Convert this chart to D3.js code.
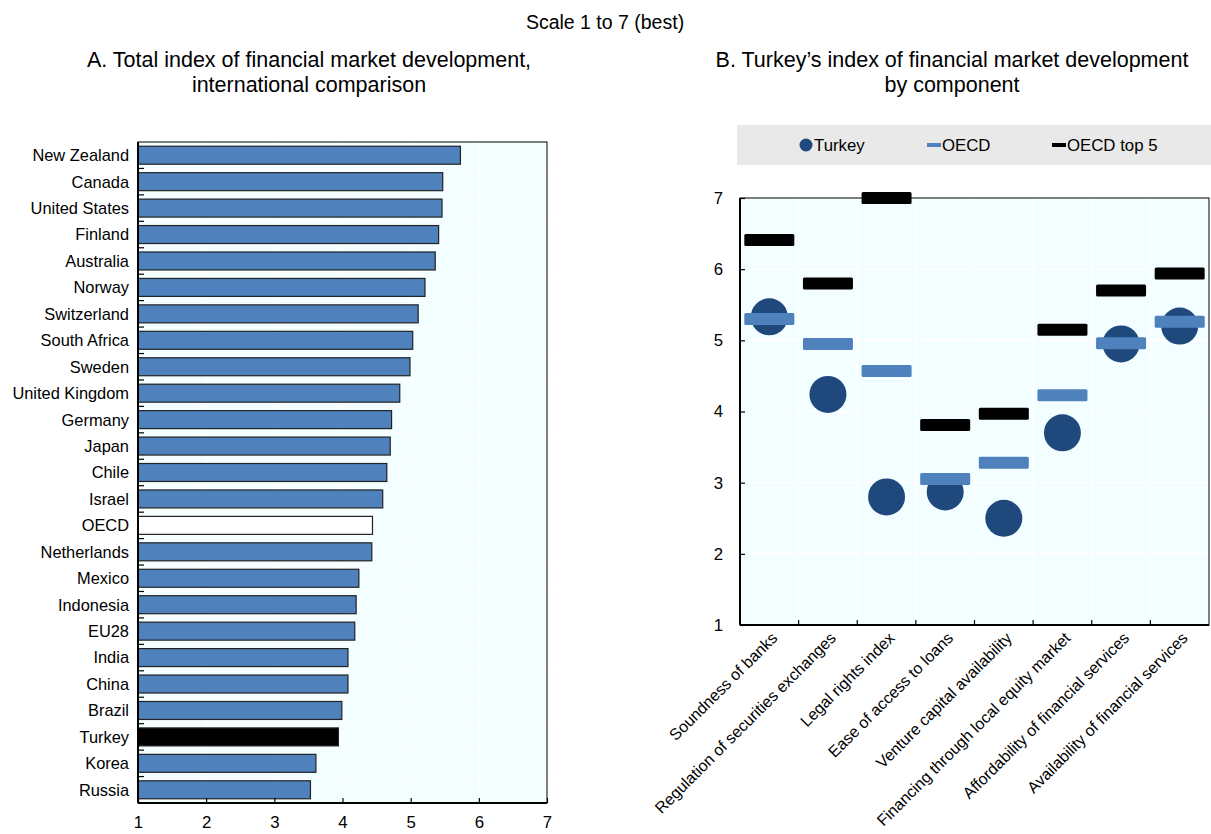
<!DOCTYPE html>
<html>
<head>
<meta charset="utf-8">
<script src="https://cdn.jsdelivr.net/npm/d3@7"></script>
<style>
  body { margin: 0; background: #fff; }
  svg { font-family: "Liberation Sans", Arial, sans-serif; }
</style>
</head>
<body>
<svg id="chart" width="1211" height="834"></svg>
<script>
// Panel A data
var countries = ["New Zealand", "Canada", "United States", "Finland", "Australia", "Norway",
  "Switzerland", "South Africa", "Sweden", "United Kingdom", "Germany", "Japan", "Chile",
  "Israel", "OECD", "Netherlands", "Mexico", "Indonesia", "EU28", "India", "China", "Brazil",
  "Turkey", "Korea", "Russia"];
var totalIndex = [5.73, 5.47, 5.46, 5.41, 5.36, 5.21, 5.11, 5.03, 4.99, 4.84, 4.72, 4.70, 4.65,
  4.59, 4.44, 4.43, 4.24, 4.20, 4.18, 4.08, 4.08, 3.99, 3.94, 3.61, 3.53];

// Panel B data
var components = ["Soundness of banks", "Regulation of securities exchanges", "Legal rights index",
  "Ease of access to loans", "Venture capital availability", "Financing through local equity market",
  "Affordability of financial services", "Availability of financial services"];
var turkeyVals = [5.33, 4.24, 2.80, 2.87, 2.50, 3.70, 4.95, 5.20];
var oecdVals = [5.30, 4.95, 4.57, 3.05, 3.28, 4.23, 4.96, 5.26];
var top5Vals = [6.41, 5.80, 7.00, 3.81, 3.97, 5.15, 5.70, 5.94];
var scaleTicks = [1, 2, 3, 4, 5, 6, 7];

// labels in the original use a narrow face; use it if the machine has one
var ctx = document.createElement("canvas").getContext("2d");
function textW(f) { ctx.font = f; return ctx.measureText("New Zealand 1234").width; }
var hasNarrow = textW("20px 'Liberation Sans Narrow', monospace") != textW("20px monospace");
var labFont = hasNarrow ? "'Liberation Sans Narrow', 'Liberation Sans', Arial, sans-serif" : "'Liberation Sans', Arial, sans-serif";
var k = hasNarrow ? 1 : 0.84; // shrink if we fall back to the wide face
function fs(px) { return (px * k).toFixed(1) + "px"; }

var svg = d3.select("#chart");
var plotBg = "#f2feff";
var barBlue = "#4f81bd";
var darkBlue = "#1f497d";

// main title
svg.append("text").attr("x", 605).attr("y", 29).attr("text-anchor", "middle")
  .style("font-size", "19.5px").text("Scale 1 to 7 (best)");

// ---------- Panel A ----------
var ax0 = 138, ax1 = 547, ay0 = 142, ay1 = 803;
svg.append("text").attr("x", 309).attr("y", 67).attr("text-anchor", "middle")
  .style("font-size", "21.5px").text("A. Total index of financial market development,");
svg.append("text").attr("x", 309).attr("y", 92).attr("text-anchor", "middle")
  .style("font-size", "21.5px").text("international comparison");

var xA = d3.scaleLinear().domain([1, 7]).range([ax0, ax1]);
var yA = d3.scaleBand().domain(countries).range([ay0, ay1]).paddingInner(0.32).paddingOuter(0.16);

var gA = svg.append("g");
gA.append("rect").attr("x", ax0).attr("y", ay0).attr("width", ax1 - ax0).attr("height", ay1 - ay0)
  .attr("fill", plotBg);

// gridlines
gA.selectAll(".vgrid").data(scaleTicks.slice(1, -1)).enter().append("line")
  .attr("x1", function(d) { return xA(d); }).attr("x2", function(d) { return xA(d); })
  .attr("y1", ay0).attr("y2", ay1).attr("stroke", "#fff").attr("stroke-width", 1.5);
var stepA = yA.step();
gA.selectAll(".hgrid").data(d3.range(1, countries.length)).enter().append("line")
  .attr("x1", ax0).attr("x2", ax1)
  .attr("y1", function(i) { return ay0 + i * stepA; }).attr("y2", function(i) { return ay0 + i * stepA; })
  .attr("stroke", "#fff").attr("stroke-width", 1);

// bars
gA.selectAll(".bar").data(countries).enter().append("rect")
  .attr("x", xA(1))
  .attr("y", function(d) { return yA(d); })
  .attr("width", function(d, i) { return xA(totalIndex[i]) - xA(1); })
  .attr("height", yA.bandwidth())
  .attr("fill", function(d) { return d == "Turkey" ? "#000" : (d == "OECD" ? "#fff" : barBlue); })
  .attr("stroke", "#222").attr("stroke-width", 1.2);

// frame
gA.append("rect").attr("x", ax0).attr("y", ay0).attr("width", ax1 - ax0).attr("height", ay1 - ay0)
  .attr("fill", "none").attr("stroke", "#000").attr("stroke-width", 1);
gA.append("line").attr("x1", ax0).attr("x2", ax0).attr("y1", ay0).attr("y2", ay1)
  .attr("stroke", "#000").attr("stroke-width", 2);
gA.append("line").attr("x1", ax0).attr("x2", ax1).attr("y1", ay1).attr("y2", ay1)
  .attr("stroke", "#000").attr("stroke-width", 2);

// band ticks on the left axis
gA.selectAll(".ytick").data(d3.range(1, countries.length)).enter().append("line")
  .attr("x1", ax0).attr("x2", ax0 + 6)
  .attr("y1", function(i) { return ay0 + i * stepA; }).attr("y2", function(i) { return ay0 + i * stepA; })
  .attr("stroke", "#000").attr("stroke-width", 1.2);

// country labels
gA.selectAll(".ylab").data(countries).enter().append("text")
  .attr("x", ax0 - 9)
  .attr("y", function(d) { return yA(d) + yA.bandwidth() / 2; })
  .attr("dy", "0.36em").attr("text-anchor", "end")
  .style("font-family", labFont).style("font-size", fs(19.5)).text(function(d) { return d; });

// x axis
var axisA = gA.append("g").attr("transform", "translate(0," + ay1 + ")")
  .call(d3.axisBottom(xA).tickValues(scaleTicks).tickSize(-5).tickPadding(14).tickFormat(d3.format("d")));
axisA.select(".domain").remove();
axisA.selectAll("line").attr("stroke-width", 1.2);
axisA.selectAll("text").attr("y", 25).attr("dy", 0)
  .style("font-size", fs(20)).style("font-family", labFont);

// ---------- Panel B ----------
var bx0 = 740, bx1 = 1209, by0 = 198, by1 = 625;
svg.append("text").attr("x", 952).attr("y", 67).attr("text-anchor", "middle")
  .style("font-size", "21.5px").text("B. Turkey\u2019s index of financial market development");
svg.append("text").attr("x", 952).attr("y", 92).attr("text-anchor", "middle")
  .style("font-size", "21.5px").text("by component");

// legend
var leg = svg.append("g").style("font-family", labFont).style("font-size", fs(20));
leg.append("rect").attr("x", 737).attr("y", 125).attr("width", 474).attr("height", 40).attr("fill", "#e9e9e9");
leg.append("circle").attr("cx", 806).attr("cy", 145).attr("r", 6.5).attr("fill", darkBlue);
leg.append("text").attr("x", 814).attr("y", 145).attr("dy", "0.36em").text("Turkey");
leg.append("rect").attr("x", 927).attr("y", 143).attr("width", 14).attr("height", 4).attr("fill", barBlue);
leg.append("text").attr("x", 942).attr("y", 145).attr("dy", "0.36em").text("OECD");
leg.append("rect").attr("x", 1052).attr("y", 143).attr("width", 14).attr("height", 4).attr("fill", "#000");
leg.append("text").attr("x", 1067).attr("y", 145).attr("dy", "0.36em").text("OECD top 5");

var xB = d3.scaleBand().domain(components).range([bx0, bx1]);
var yB = d3.scaleLinear().domain([1, 7]).range([by1, by0]);

var gB = svg.append("g");
gB.append("rect").attr("x", bx0).attr("y", by0).attr("width", bx1 - bx0).attr("height", by1 - by0)
  .attr("fill", plotBg);
gB.selectAll(".hgrid").data(scaleTicks.slice(1, -1)).enter().append("line")
  .attr("x1", bx0).attr("x2", bx1)
  .attr("y1", function(d) { return yB(d); }).attr("y2", function(d) { return yB(d); })
  .attr("stroke", "#fff").attr("stroke-width", 1.5);
gB.selectAll(".vgrid").data(components.slice(1)).enter().append("line")
  .attr("x1", function(d) { return xB(d); }).attr("x2", function(d) { return xB(d); })
  .attr("y1", by0).attr("y2", by1).attr("stroke", "#fff").attr("stroke-width", 1.5);

// frame
gB.append("rect").attr("x", bx0).attr("y", by0).attr("width", bx1 - bx0).attr("height", by1 - by0)
  .attr("fill", "none").attr("stroke", "#000").attr("stroke-width", 1);
gB.append("line").attr("x1", bx0).attr("x2", bx0).attr("y1", by0).attr("y2", by1)
  .attr("stroke", "#000").attr("stroke-width", 2);
gB.append("line").attr("x1", bx0).attr("x2", bx1).attr("y1", by1).attr("y2", by1)
  .attr("stroke", "#000").attr("stroke-width", 2);

// y axis
var axisB = gB.append("g").attr("transform", "translate(" + bx0 + ",0)")
  .call(d3.axisLeft(yB).tickValues(scaleTicks).tickSize(-5).tickPadding(17).tickFormat(d3.format("d")));
axisB.select(".domain").remove();
axisB.selectAll("line").attr("stroke-width", 1.2);
axisB.selectAll("text").style("font-size", fs(20)).style("font-family", labFont);

// category ticks on x axis
gB.selectAll(".xtick").data(components.slice(1)).enter().append("line")
  .attr("x1", function(d) { return xB(d); }).attr("x2", function(d) { return xB(d); })
  .attr("y1", by1).attr("y2", by1 - 5).attr("stroke", "#000").attr("stroke-width", 1.2);

// markers
var mw = 50, mh = 12;
var cx = function(d) { return xB(d) + xB.bandwidth() / 2; };
gB.selectAll(".turkey").data(components).enter().append("circle")
  .attr("cx", cx).attr("cy", function(d, i) { return yB(turkeyVals[i]); })
  .attr("r", 18.5).attr("fill", darkBlue);
gB.selectAll(".oecd").data(components).enter().append("rect")
  .attr("x", function(d) { return cx(d) - mw / 2; })
  .attr("y", function(d, i) { return yB(oecdVals[i]) - mh / 2; })
  .attr("width", mw).attr("height", mh).attr("rx", 1.5).attr("fill", barBlue);
gB.selectAll(".top5").data(components).enter().append("rect")
  .attr("x", function(d) { return cx(d) - mw / 2; })
  .attr("y", function(d, i) { return yB(top5Vals[i]) - mh / 2; })
  .attr("width", mw).attr("height", mh).attr("rx", 1.5).attr("fill", "#000");

// rotated category labels
gB.selectAll(".xlab").data(components).enter().append("text")
  .attr("transform", function(d) { return "translate(" + (cx(d) + 5) + "," + (by1 + 10) + ") rotate(-45)"; })
  .attr("text-anchor", "end").attr("dy", "0.36em")
  .style("font-family", labFont).style("font-size", fs(19)).text(function(d) { return d; });
</script>
</body>
</html>
